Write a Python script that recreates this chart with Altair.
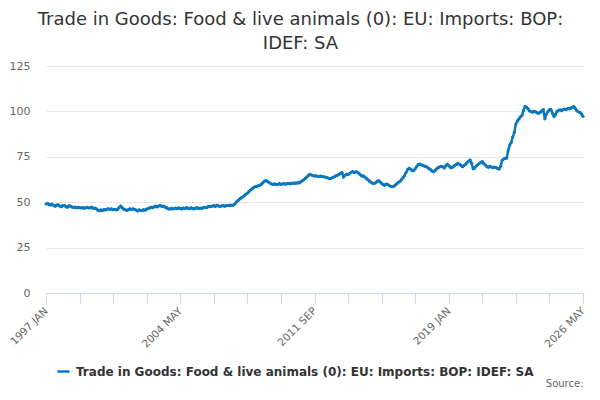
import altair as alt
import pandas as pd

SERIES = "Trade in Goods: Food & live animals (0): EU: Imports: BOP: IDEF: SA"
TITLE_LINES = ["Trade in Goods: Food & live animals (0): EU: Imports: BOP:", "IDEF: SA"]
MONTHS = ["JAN", "FEB", "MAR", "APR", "MAY", "JUN", "JUL", "AUG", "SEP", "OCT", "NOV", "DEC"]
START_YEAR = 1997

v1997 = [49.0, 49.3, 48.8, 48.5, 48.9, 48.2, 47.8, 48.4, 48.6, 47.9, 47.5, 48.1]
v1998 = [48.3, 47.6, 47.2, 48.0, 47.8, 47.4, 47.1, 47.3, 46.9, 47.2, 47.0, 46.8]
v1999 = [47.0, 46.7, 46.9, 47.2, 46.8, 46.9, 47.3, 46.6, 46.8, 46.4, 45.6, 45.3]
v2000 = [45.8, 45.4, 46.0, 45.7, 46.2, 46.4, 46.0, 46.3, 45.9, 46.1, 45.8, 46.0]
v2001 = [47.2, 47.8, 46.9, 46.2, 45.8, 45.5, 45.9, 46.3, 46.0, 46.4, 46.1, 45.7]
v2002 = [45.2, 45.8, 45.5, 45.3, 45.9, 45.6, 46.2, 46.5, 46.9, 47.3, 47.0, 47.5]
v2003 = [47.8, 47.4, 48.0, 48.2, 47.6, 47.9, 47.3, 47.0, 46.4, 46.2, 46.6, 46.3]
v2004 = [46.5, 46.8, 46.4, 46.9, 46.6, 46.3, 46.8, 46.5, 47.0, 46.7, 46.4, 46.9]
v2005 = [46.6, 46.3, 46.7, 47.0, 46.5, 46.8, 46.6, 46.9, 47.2, 47.0, 47.4, 47.7]
v2006 = [47.5, 47.9, 48.1, 47.6, 48.3, 48.0, 47.7, 47.9, 48.2, 47.8, 48.0, 48.3]
v2007 = [48.1, 48.4, 48.2, 48.5, 49.2, 50.3, 51.0, 51.8, 52.4, 53.0, 53.6, 54.4]
v2008 = [54.9, 55.8, 56.7, 57.3, 58.0, 58.5, 58.7, 59.0, 59.3, 59.8, 60.6, 61.5]
v2009 = [61.9, 61.6, 61.0, 60.4, 60.0, 59.8, 60.1, 59.7, 59.9, 60.2, 59.8, 60.0]
v2010 = [60.3, 59.9, 60.2, 60.4, 60.1, 60.5, 60.3, 60.6, 60.4, 60.8, 60.6, 61.2]
v2011 = [61.8, 62.4, 63.1, 63.9, 64.8, 65.3, 65.0, 64.6, 64.4, 64.5, 64.3, 64.2]
v2012 = [64.4, 64.1, 64.0, 63.8, 63.6, 63.3, 62.9, 63.2, 63.6, 64.0, 64.5, 64.8]
v2013 = [65.3, 65.9, 66.3, 63.9, 64.8, 65.5, 65.2, 65.8, 66.5, 66.8, 66.3, 66.7]
v2014 = [66.6, 66.0, 65.2, 64.4, 64.5, 63.8, 63.1, 62.4, 61.6, 61.0, 60.5, 60.3]
v2015 = [60.7, 61.4, 61.9, 61.2, 60.4, 59.6, 59.4, 60.0, 59.8, 59.2, 58.7, 58.5]
v2016 = [58.8, 59.5, 60.2, 61.0, 61.5, 62.4, 63.5, 64.6, 66.3, 68.0, 68.7, 68.3]
v2017 = [67.5, 67.3, 68.4, 69.6, 70.8, 71.0, 70.6, 70.3, 69.9, 69.7, 69.2, 68.5]
v2018 = [68.0, 67.2, 66.8, 67.5, 68.3, 69.0, 69.4, 69.8, 69.5, 68.9, 70.0, 70.9]
v2019 = [70.2, 69.3, 69.0, 69.6, 70.3, 70.8, 71.4, 70.9, 70.3, 69.5, 70.2, 70.8]
v2020 = [71.8, 72.6, 73.2, 71.4, 68.4, 68.8, 69.9, 70.6, 71.3, 72.0, 72.4, 71.2]
v2021 = [70.5, 69.6, 69.2, 69.8, 69.4, 69.0, 69.3, 69.1, 68.6, 68.3, 69.8, 73.0]
v2022 = [73.8, 74.1, 74.3, 78.7, 81.5, 83.0, 86.0, 88.5, 93.0, 94.8, 95.8, 97.0]
v2023 = [97.8, 100.5, 102.6, 102.2, 101.4, 100.2, 99.9, 99.6, 100.1, 99.7, 99.2, 99.0]
v2024 = [99.6, 100.3, 100.9, 95.9, 98.5, 99.8, 100.9, 101.0, 99.0, 97.3, 98.3, 100.0]
v2025 = [100.6, 100.9, 100.4, 101.1, 101.3, 101.0, 101.6, 101.4, 101.8, 102.2, 102.7, 101.6]
v2026 = [100.3, 99.8, 99.4, 98.6, 97.3]

yearly = [v1997, v1998, v1999, v2000, v2001, v2002, v2003, v2004, v2005, v2006,
          v2007, v2008, v2009, v2010, v2011, v2012, v2013, v2014, v2015, v2016,
          v2017, v2018, v2019, v2020, v2021, v2022, v2023, v2024, v2025, v2026]

rows = []
idx = 0
for k, vals in enumerate(yearly):
    for m, v in enumerate(vals):
        rows.append({"i": idx, "period": f"{START_YEAR + k} {MONTHS[m]}", "value": v, "series": SERIES})
        idx += 1
df = pd.DataFrame(rows)
last = idx - 1

TICK_STEP = 22
LABEL_STEP = 88
tick_values = list(range(0, last + 1, TICK_STEP))
periods = df["period"].tolist()
label_map = "{" + ",".join(f"'{t}':'{periods[t]}'" for t in tick_values if t % LABEL_STEP == 0) + "}"
label_expr = f"({label_map})[toString(datum.value)] || ''"

BLUE = "#0a78bf"
FONT = "DejaVu Sans"

chart = alt.Chart(df).mark_line(
    strokeWidth=2.5,
    point=alt.OverlayMarkDef(filled=True, size=10, color=BLUE),
).encode(
    x=alt.X("i:Q",
            scale=alt.Scale(domain=[0, last], nice=False, zero=False),
            axis=alt.Axis(values=tick_values, labelExpr=label_expr, grid=False,
                          domainColor="#ccd6eb", tickColor="#ccd6eb", tickSize=10,
                          labelAngle=-45, labelAlign="right", labelBaseline="middle",
                          labelPadding=6, labelFontSize=10.5, labelColor="#666666",
                          labelFont=FONT, labelOverlap=False,
                          title="Source:", titleAnchor="end", titleAlign="right",
                          titleX=537, titleY=93, titleBaseline="alphabetic",
                          titleFontSize=10, titleFontWeight="normal",
                          titleColor="#666666", titleFont=FONT)),
    y=alt.Y("value:Q",
            scale=alt.Scale(domain=[0, 125], nice=False),
            axis=alt.Axis(values=[0, 25, 50, 75, 100, 125], title=None, domain=False,
                          ticks=False, gridColor="#e6e6e6", labelPadding=16,
                          labelFontSize=11, labelColor="#666666", labelFont=FONT)),
    color=alt.Color("series:N",
                    scale=alt.Scale(range=[BLUE]),
                    legend=alt.Legend(title=None, orient="none", legendX=10, legendY=298,
                                      symbolType="stroke", symbolStrokeWidth=2.5,
                                      symbolSize=150, labelFontSize=12,
                                      labelFontWeight="bold", labelColor="#333333",
                                      labelFont=FONT, labelLimit=0, labelOffset=5,
                                      padding=0)),
).properties(
    width=537,
    height=227,
    title=alt.TitleParams(text=TITLE_LINES, anchor="middle", fontSize=18,
                          fontWeight="normal", color="#333333", font=FONT,
                          lineHeight=24, offset=7, dx=-14),
    autosize=alt.AutoSizeParams(type="none"),
    padding={"left": 38, "top": 58, "right": 9, "bottom": 99},
).configure_view(stroke=None)

chart.save("out.html", embed_options={"renderer": "svg", "actions": False})
